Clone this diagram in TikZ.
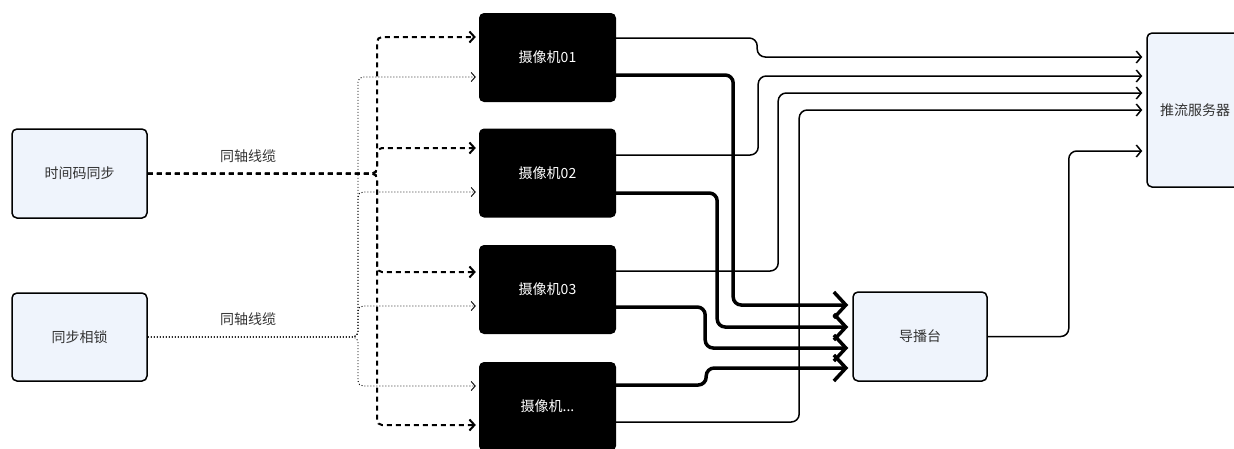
\documentclass[tikz,border=0pt]{standalone}
\usepackage{fontspec}
\setmainfont{Noto Sans CJK SC}
\usetikzlibrary{arrows.meta}
\definecolor{boxfill}{RGB}{239,244,252}
\definecolor{txt}{RGB}{51,51,51}
\begin{document}
\begin{tikzpicture}[x=1pt,y=-1pt,
  lightbox/.style={draw=black, line width=1.5pt, fill=boxfill, rounded corners=5pt,
    text=txt, font=\fontsize{14}{16}\selectfont, inner sep=0pt},
  cambox/.style={fill=black, rounded corners=5pt, text=white,
    font=\fontsize{14}{16}\selectfont, inner sep=0pt,
    minimum width=137pt, minimum height=89pt},
  lbl/.style={text=txt, font=\fontsize{14}{16}\selectfont, inner sep=0pt},
  tcline/.style={line width=2pt, dash pattern=on 5pt off 4pt, rounded corners=5pt,
    -{Straight Barb[length=5pt,width=11pt,line width=2pt]}, shorten >=3pt},
  glline/.style={line width=0.9pt, dash pattern=on 1pt off 2pt, rounded corners=5pt,
    -{Straight Barb[length=4pt,width=9pt,line width=0.9pt]}, shorten >=3pt},
  streamline/.style={line width=1.5pt, rounded corners=8pt,
    -{Straight Barb[length=5pt,width=12pt,line width=1.5pt]}, shorten >=4pt},
  feedline/.style={line width=3.5pt, rounded corners=8pt,
    -{Straight Barb[length=12pt,width=26pt,line width=3.5pt]}, shorten >=4pt}]
\clip (0,0) rectangle (1234,448);
\fill[white] (0,0) rectangle (1234,448);

% nodes
\node[lightbox, minimum width=135pt, minimum height=89pt] (tc) at (79.5,173.5) {时间码同步};
\node[lightbox, minimum width=135pt, minimum height=88pt] (gl) at (79.5,337) {同步相锁};
\node[cambox] (cam1) at (547.5,57.5) {摄像机01};
\node[cambox] (cam2) at (547.5,173) {摄像机02};
\node[cambox] (cam3) at (547.5,289.5) {摄像机03};
\node[cambox] (cam4) at (547.5,406.5) {摄像机...};
\node[lightbox, minimum width=134pt, minimum height=89pt] (dir) at (920,336.5) {导播台};
\node[lightbox, minimum width=96pt, minimum height=154pt] (srv) at (1195,110) {推流服务器};

\node[lbl] (l1) at (248,156) {同轴线缆};
\node[lbl] (l2) at (248,319) {同轴线缆};

\coordinate (tcj) at (377,173.5);
\coordinate (glj) at (358,337);

% timecode (dashed)
\draw[tcline] (tc.east) -- (tcj) |- ([yshift=20.5pt]cam1.west);
\draw[tcline] (tc.east) -- (tcj) |- ([yshift=25pt]cam2.west);
\draw[tcline] (tc.east) -- (tcj) |- ([yshift=17.5pt]cam3.west);
\draw[tcline] (tc.east) -- (tcj) |- ([yshift=-18.5pt]cam4.west);

% genlock (dotted)
\draw[glline] (gl.east) -- (glj) |- ([yshift=-19.5pt]cam1.west);
\draw[glline] (gl.east) -- (glj) |- ([yshift=-19pt]cam2.west);
\draw[glline] (gl.east) -- (glj) |- ([yshift=-16.5pt]cam3.west);
\draw[glline] (gl.east) -- (glj) |- ([yshift=20.5pt]cam4.west);

% camera streams to server
\draw[streamline] ([yshift=19.5pt]cam1.east) -- ++(141,0) -- ++(0,19) -- ([yshift=53pt]srv.west);
\draw[streamline] ([yshift=18pt]cam2.east) -- ++(142,0) |- ([yshift=34pt]srv.west);
\draw[streamline] ([yshift=18.5pt]cam3.east) -- ++(162,0) |- ([yshift=17pt]srv.west);
\draw[streamline] ([yshift=-15.5pt]cam4.east) -- ++(183,0) |- (srv.west);

% camera feeds to director
\draw[feedline] ([yshift=-17.5pt]cam1.east) -- ++(117,0) |- ([yshift=31.5pt]dir.west);
\draw[feedline] ([yshift=-20pt]cam2.east) -- ++(101,0) |- ([yshift=9.5pt]dir.west);
\draw[feedline] ([yshift=-17.5pt]cam3.east) -- ++(89,0) |- ([yshift=-11.5pt]dir.west);
\draw[feedline] ([yshift=21.5pt]cam4.east) -- ++(90,0) |- ([yshift=-31.5pt]dir.west);

% director to server
\draw[streamline] (dir.east) -- ++(81,0) |- ([yshift=-41pt]srv.west);
\end{tikzpicture}
\end{document}
